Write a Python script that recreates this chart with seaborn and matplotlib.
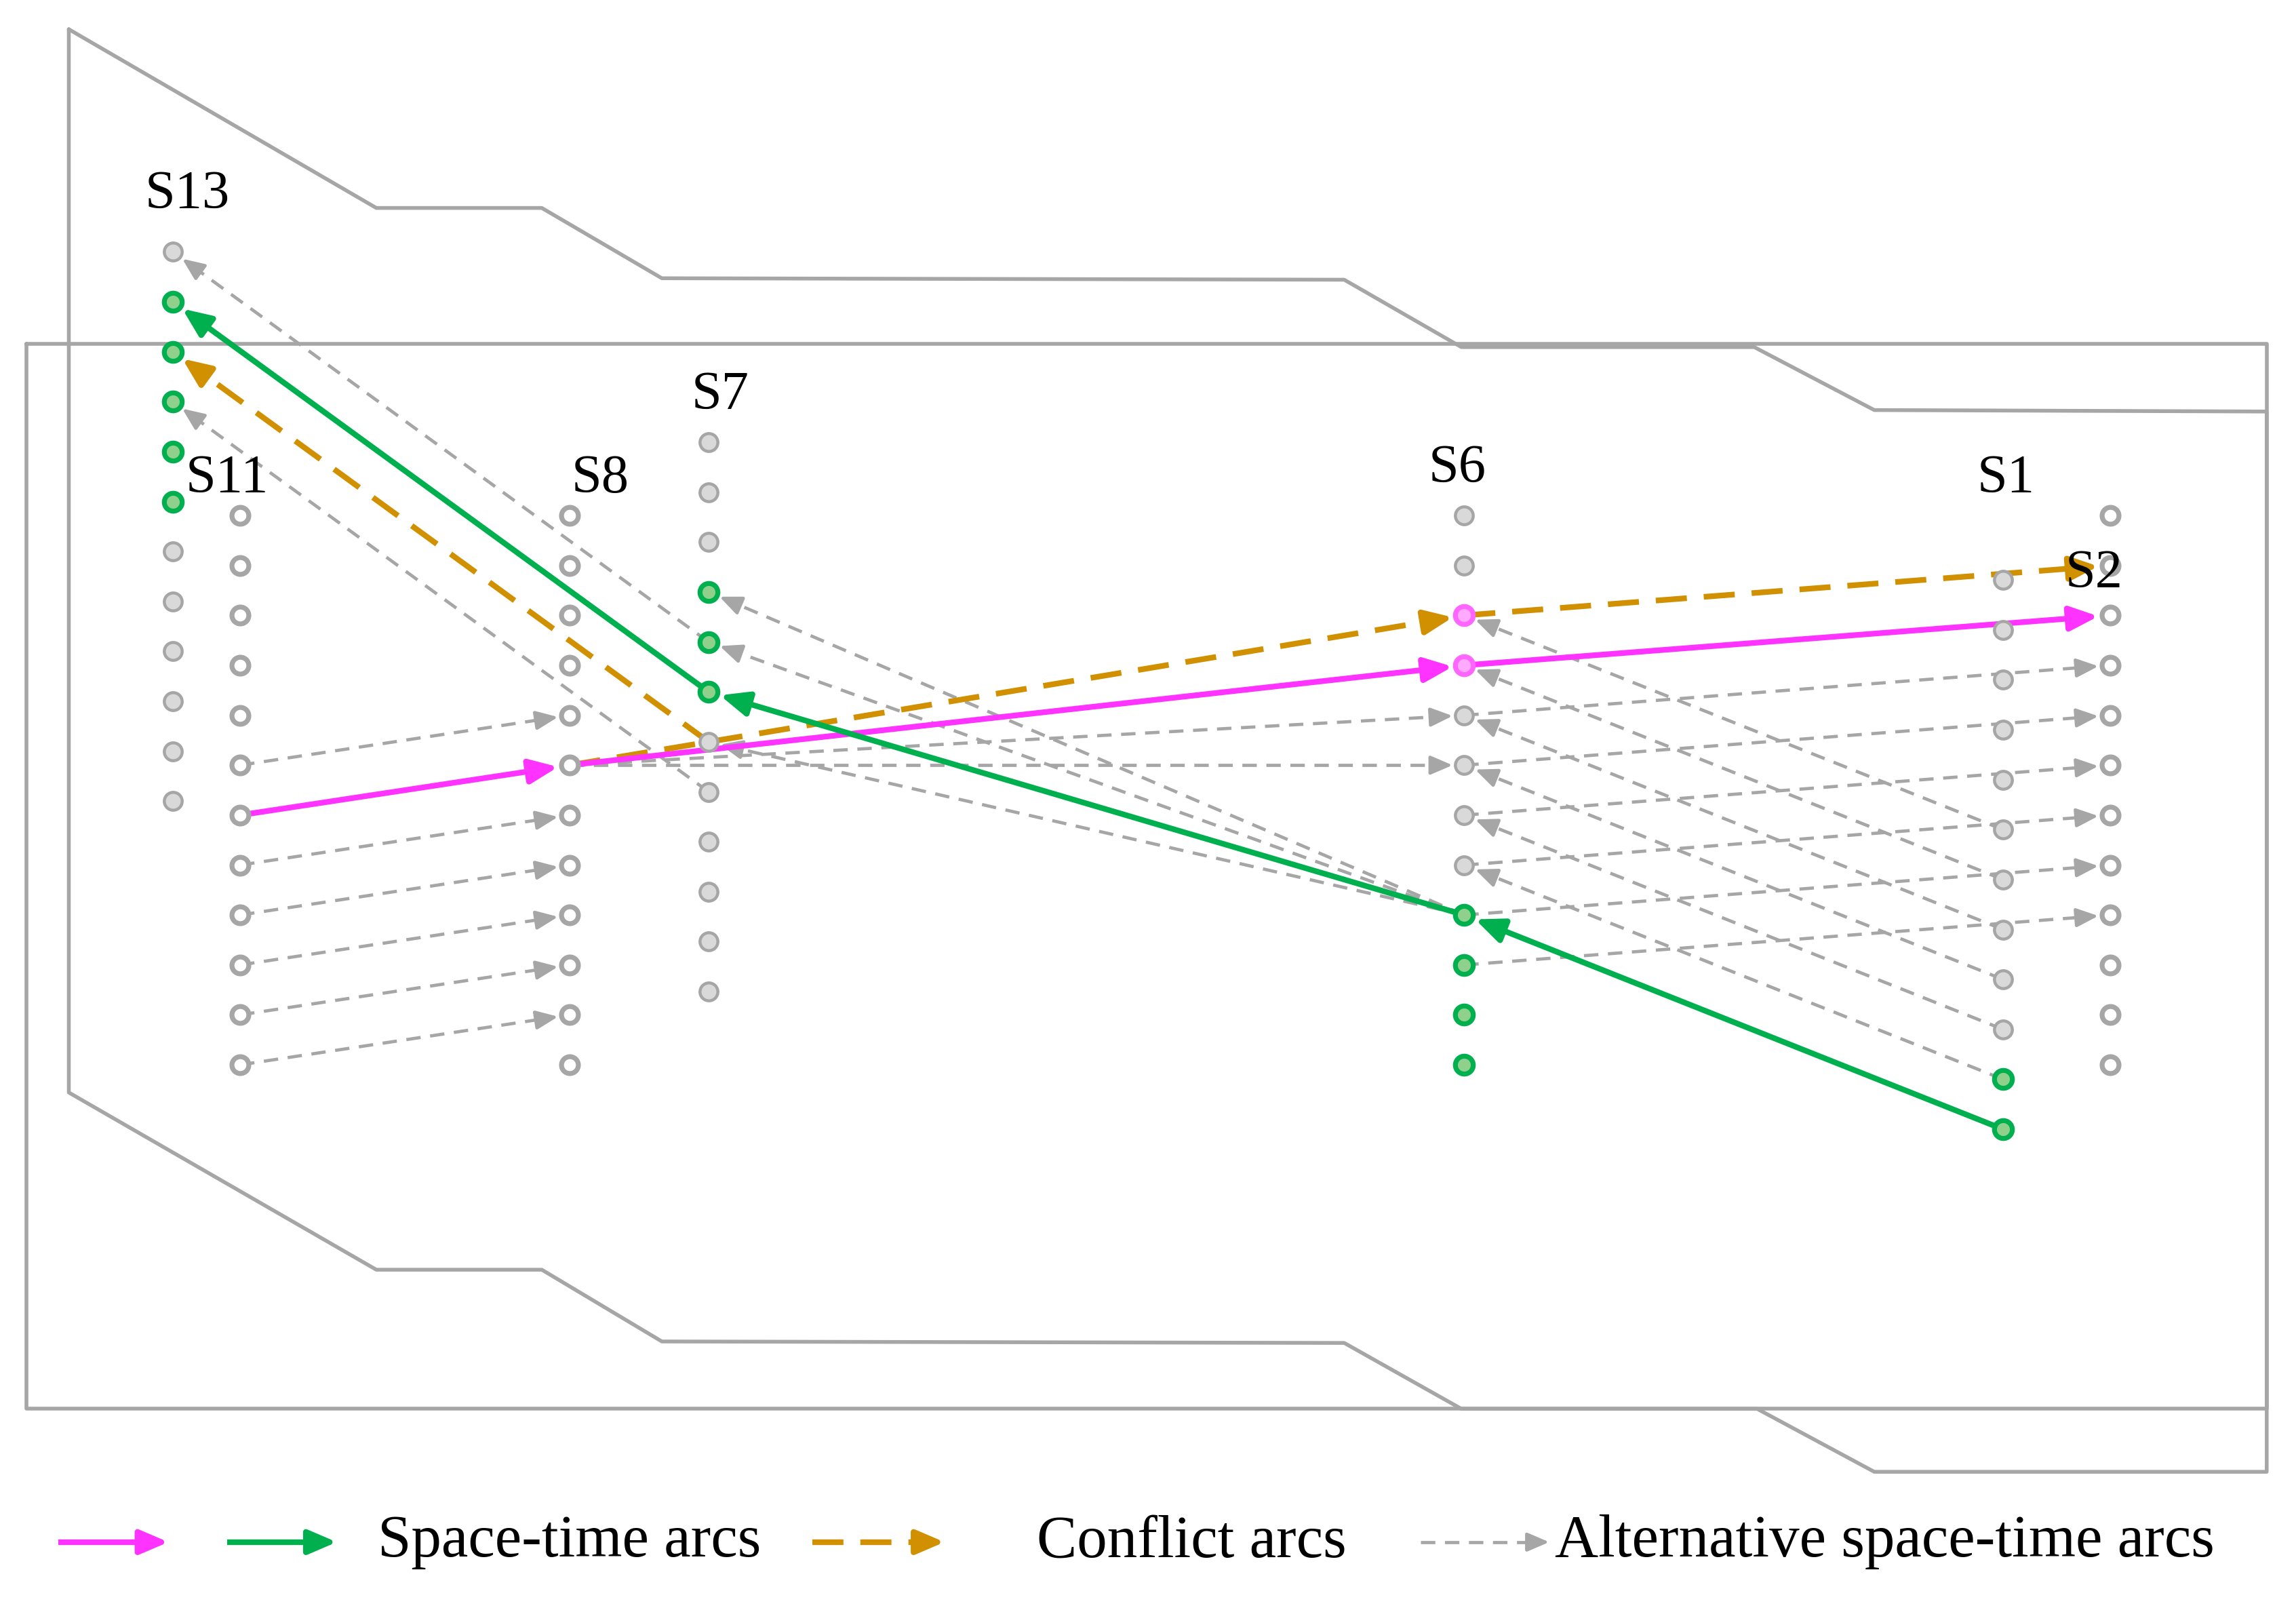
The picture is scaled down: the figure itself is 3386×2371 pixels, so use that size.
import numpy as np
import pandas as pd
import matplotlib
matplotlib.use("Agg")
import matplotlib.pyplot as plt
import seaborn as sns

# Stations: name, x position, y of first node (canvas units, y grows downward)
station_names = ["S13", "S11", "S8", "S7", "S6", "S1", "S2"]
station_x = [118, 164, 389, 484, 1000, 1368, 1441]
station_y0 = [172, 352, 352, 302, 352, 396, 352]
station_hollow = [False, True, True, False, False, False, True]
label_xy = [(128, 133), (155, 327), (410, 327), (492, 270), (995, 320), (1370, 327), (1430, 392)]
node_step = 34.1
n_nodes = 12

green_nodes = {"S13": [1, 2, 3, 4, 5], "S7": [3, 4, 5], "S6": [8, 9, 10, 11], "S1": [10, 11]}
pink_nodes = {"S6": [2, 3]}

# Arcs: (from station, from node, to station, to node)
pink_arcs = [("S11", 6, "S8", 5), ("S8", 5, "S6", 3), ("S6", 3, "S2", 2)]
green_arcs = [("S1", 11, "S6", 8), ("S6", 8, "S7", 5), ("S7", 5, "S13", 1)]
conflict_arcs = [("S8", 5, "S6", 2), ("S6", 2, "S2", 1), ("S7", 6, "S13", 2)]
alt_arcs = [("S7", 4, "S13", 0), ("S7", 7, "S13", 3),
            ("S11", 5, "S8", 4), ("S11", 7, "S8", 6), ("S11", 8, "S8", 7),
            ("S11", 9, "S8", 8), ("S11", 10, "S8", 9), ("S11", 11, "S8", 10),
            ("S8", 5, "S6", 4), ("S8", 5, "S6", 5),
            ("S6", 8, "S7", 3), ("S6", 8, "S7", 4), ("S6", 8, "S7", 6),
            ("S1", 5, "S6", 2), ("S1", 6, "S6", 3), ("S1", 7, "S6", 4),
            ("S1", 8, "S6", 5), ("S1", 9, "S6", 6), ("S1", 10, "S6", 7),
            ("S6", 4, "S2", 3), ("S6", 5, "S2", 4), ("S6", 6, "S2", 5),
            ("S6", 7, "S2", 6), ("S6", 8, "S2", 7), ("S6", 9, "S2", 8)]

# Outline shapes
poly_x = [47, 257, 370, 452, 918, 998, 1198, 1280, 1548, 1548, 1280, 1200, 998, 918, 452, 370, 257, 47, 47]
poly_y = [20, 142, 142, 190, 191, 237, 237, 280, 281, 1005, 1005, 962, 962, 917, 916, 867, 867, 746, 20]
rect_x = [18, 1548, 1548, 18, 18]
rect_y = [235, 235, 962, 962, 235]

PINK = "#ff33ff"
GREEN = "#00b04f"
ORANGE = "#d09000"
GRAY = "#a6a6a6"

sns.set_theme(style="white")
plt.rcParams["font.family"] = ["Liberation Serif", "DejaVu Serif"]
plt.rcParams["text.color"] = "black"

pos = {n: (x, y0) for n, x, y0 in zip(station_names, station_x, station_y0)}


def node_xy(st, i):
    x, y0 = pos[st]
    return np.array([x, y0 + i * node_step])


fig = plt.figure(figsize=(16.93, 11.855), dpi=200)
ax = fig.add_axes([0, 0, 1, 1])
ax.set_xlim(0, 1568)
ax.set_ylim(1098, 0)
ax.axis("off")

ax.plot(poly_x, poly_y, color=GRAY, lw=2.0, zorder=1)
ax.plot(rect_x, rect_y, color=GRAY, lw=2.0, zorder=1)


def arrow(p0, p1, color, lw, ls, dashes=None, head=18, gap=8, z=2):
    p0, p1 = np.asarray(p0, float), np.asarray(p1, float)
    u = (p1 - p0) / np.linalg.norm(p1 - p0)
    tip = p1 - u * gap
    kw = dict(color=color, lw=lw, zorder=z, solid_capstyle="butt")
    if dashes:
        kw["dashes"] = dashes
    ax.plot([p0[0], tip[0] - u[0] * 6], [p0[1], tip[1] - u[1] * 6], linestyle=ls, **kw)
    ax.annotate("", xy=tip, xytext=tip - u * 10, zorder=z + 0.5,
                arrowprops=dict(arrowstyle="-|>,head_length=0.7,head_width=0.3",
                                color=color, lw=lw, mutation_scale=head,
                                shrinkA=0, shrinkB=0))


for a in alt_arcs:
    arrow(node_xy(a[0], a[1]), node_xy(a[2], a[3]), GRAY, 1.7, "--", (4.5, 3), head=14, z=2)
for a in conflict_arcs:
    arrow(node_xy(a[0], a[1]), node_xy(a[2], a[3]), ORANGE, 3.0, "--", (5.5, 3), z=3)
for a in pink_arcs:
    arrow(node_xy(a[0], a[1]), node_xy(a[2], a[3]), PINK, 3.0, "-", z=3)
for a in green_arcs:
    arrow(node_xy(a[0], a[1]), node_xy(a[2], a[3]), GREEN, 3.0, "-", z=3)

# Nodes
rows = []
for n, hollow in zip(station_names, station_hollow):
    for i in range(n_nodes):
        x, y = node_xy(n, i)
        kind = "hollow" if hollow else "gray"
        if i in green_nodes.get(n, []):
            kind = "green"
        if i in pink_nodes.get(n, []):
            kind = "pink"
        rows.append((x, y, kind))
nodes = pd.DataFrame(rows, columns=["x", "y", "kind"])
styles = {"gray": ("#d9d9d9", GRAY, 1.6, 90),
          "hollow": ("white", GRAY, 2.6, 80),
          "green": ("#8fd08c", GREEN, 2.6, 90),
          "pink": ("#ffaaff", "#ff66ff", 2.6, 90)}
for kind, (fc, ec, lw, s) in styles.items():
    sub = nodes[nodes["kind"] == kind]
    sns.scatterplot(data=sub, x="x", y="y", ax=ax, s=s, color=fc,
                    edgecolor=ec, linewidth=lw, zorder=5, legend=False)
ax.set_xlim(0, 1568)
ax.set_ylim(1098, 0)

for n, (lx, ly) in zip(station_names, label_xy):
    ax.text(lx, ly, n, fontsize=29, ha="center", va="center", zorder=6, color="black")

# Legend drawn by hand
ly = 1053
arrow((40, ly), (123, ly), PINK, 3.0, "-", gap=8)
arrow((155, ly), (238, ly), GREEN, 3.0, "-", gap=8)
ax.text(258, ly, "Space-time arcs", fontsize=32, va="center", color="black")
arrow((555, ly), (653, ly), ORANGE, 3.0, "--", (5.5, 3), gap=8)
ax.text(708, ly, "Conflict arcs", fontsize=32, va="center", color="black")
arrow((970, ly), (1066, ly), GRAY, 1.7, "--", (4.5, 3), head=14, gap=8)
ax.text(1062, ly, "Alternative space-time arcs", fontsize=32, va="center", color="black")

fig.savefig("out.png", dpi=200)
